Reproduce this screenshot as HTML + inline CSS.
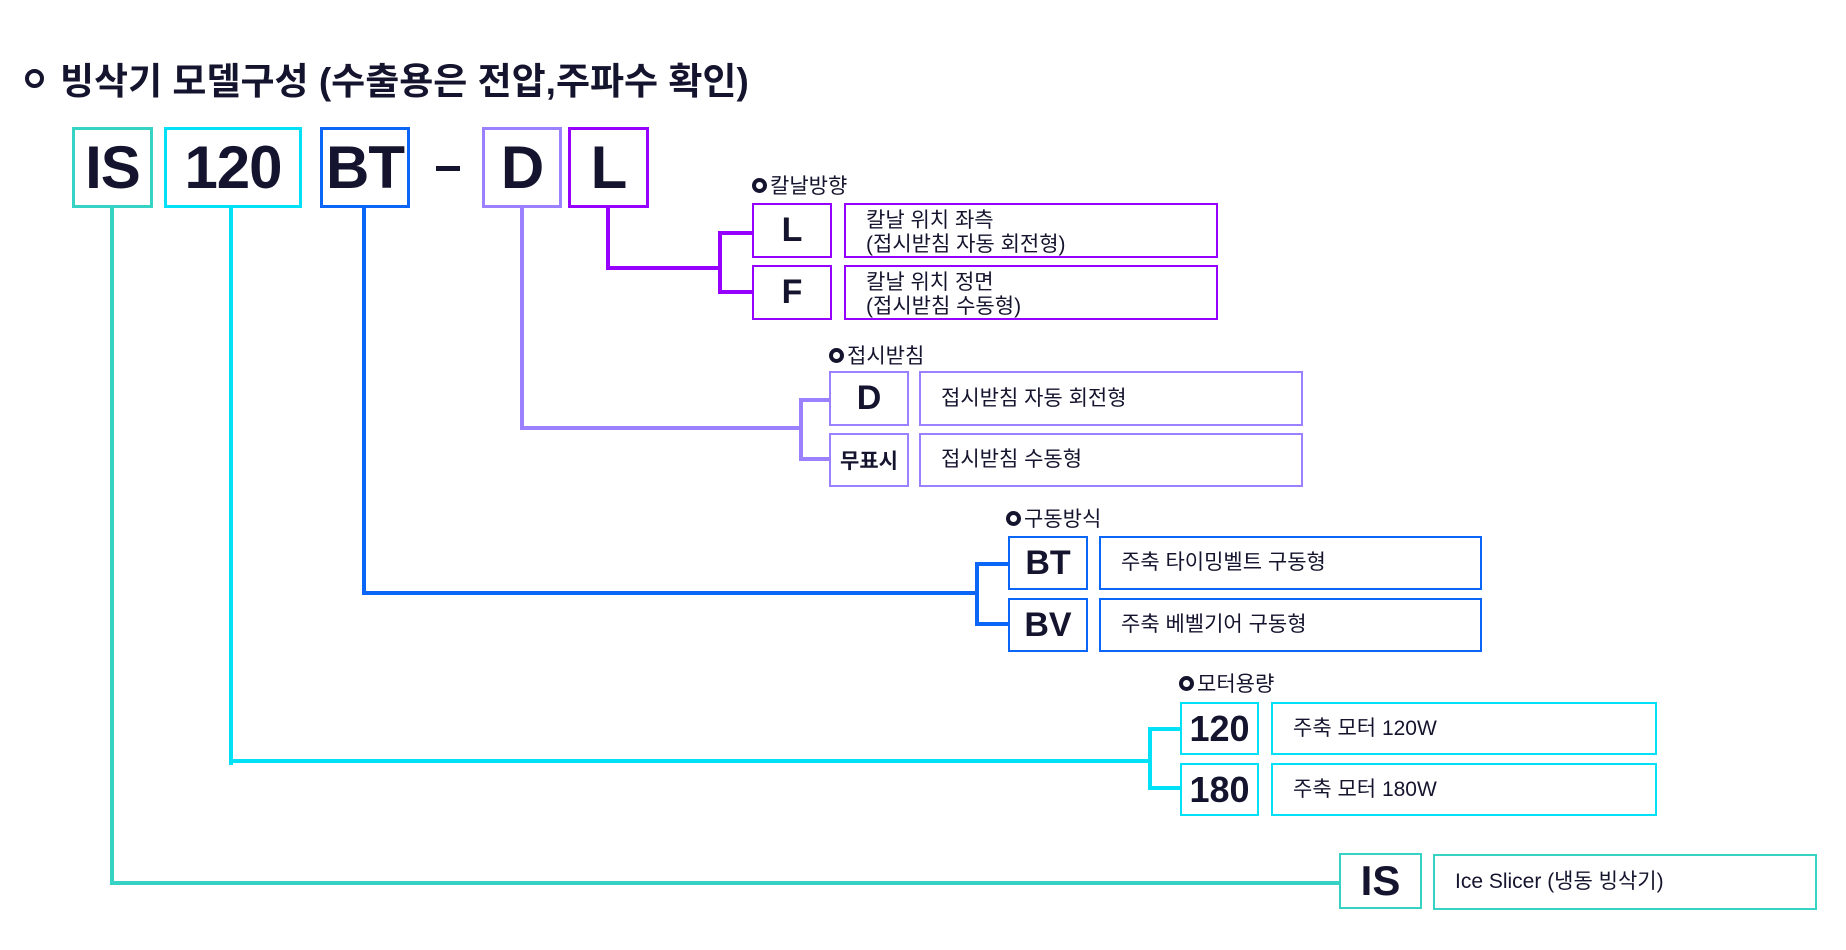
<!DOCTYPE html>
<html><head><meta charset="utf-8"><style>
body{margin:0;width:1846px;height:950px;background:#fff;position:relative;overflow:hidden;font-family:"Liberation Sans","Noto Sans CJK KR",sans-serif;color:#15142e}
.a{position:absolute;box-sizing:border-box}
.big{border:3px solid;display:flex;align-items:center;justify-content:center;font-weight:bold;font-size:60px;letter-spacing:-1px}
.bx{border:2px solid;display:flex;align-items:center;justify-content:center;font-weight:bold;font-size:34px}
.ds{border:2px solid;display:flex;align-items:center;padding-left:20px;font-size:21px;line-height:24px}
.l{position:absolute;background:currentColor}
.lb{position:absolute;font-size:21px;display:flex;align-items:center}
.lb:before{content:"";width:7px;height:7px;border:4px solid #15142e;border-radius:50%;margin-right:3px}
</style></head><body>
<div class="a" style="left:25px;top:51px;font-size:37px;font-weight:bold;display:flex;align-items:center;white-space:nowrap"><span style="display:inline-block;width:11px;height:11px;border:4px solid #15142e;border-radius:50%;margin-right:16px"></span>빙삭기 모델구성 (수출용은 전압,주파수 확인)</div>

<div class="a big" style="left:72px;top:127px;width:81px;height:81px;border-color:#36d3c5">IS</div>
<div class="a big" style="left:164px;top:127px;width:138px;height:81px;border-color:#00e1f8">120</div>
<div class="a big" style="left:320px;top:127px;width:90px;height:81px;border-color:#0a66f6">BT</div>
<div class="a" style="left:436px;top:166px;width:24px;height:5px;background:#15142e"></div>
<div class="a big" style="left:482px;top:127px;width:80px;height:81px;border-color:#9b80ff">D</div>
<div class="a big" style="left:568px;top:127px;width:81px;height:81px;border-color:#9600ff">L</div>

<div style="color:#9600ff">
<div class="l" style="left:606px;top:208px;width:4px;height:62px"></div>
<div class="l" style="left:606px;top:266px;width:116px;height:4px"></div>
<div class="l" style="left:718px;top:231px;width:4px;height:63px"></div>
<div class="l" style="left:718px;top:231px;width:36px;height:4px"></div>
<div class="l" style="left:718px;top:290px;width:36px;height:4px"></div>
</div>
<div class="lb" style="left:752px;top:170px">칼날방향</div>
<div class="a bx" style="left:752px;top:203px;width:80px;height:55px;border-color:#9600ff">L</div>
<div class="a bx" style="left:752px;top:265px;width:80px;height:55px;border-color:#9600ff">F</div>
<div class="a ds" style="left:844px;top:203px;width:374px;height:55px;border-color:#9600ff;padding-top:4px">칼날 위치 좌측<br>(접시받침 자동 회전형)</div>
<div class="a ds" style="left:844px;top:265px;width:374px;height:55px;border-color:#9600ff;padding-top:4px">칼날 위치 정면<br>(접시받침 수동형)</div>

<div style="color:#9b80ff">
<div class="l" style="left:520px;top:208px;width:4px;height:222px"></div>
<div class="l" style="left:520px;top:426px;width:283px;height:4px"></div>
<div class="l" style="left:799px;top:398px;width:4px;height:63px"></div>
<div class="l" style="left:799px;top:398px;width:32px;height:4px"></div>
<div class="l" style="left:799px;top:457px;width:32px;height:4px"></div>
</div>
<div class="lb" style="left:829px;top:340px">접시받침</div>
<div class="a bx" style="left:829px;top:371px;width:80px;height:55px;border-color:#9b80ff">D</div>
<div class="a bx" style="left:829px;top:433px;width:80px;height:54px;border-color:#9b80ff;font-size:21px">무표시</div>
<div class="a ds" style="left:919px;top:371px;width:384px;height:55px;border-color:#9b80ff">접시받침 자동 회전형</div>
<div class="a ds" style="left:919px;top:433px;width:384px;height:54px;border-color:#9b80ff">접시받침 수동형</div>

<div style="color:#0a66f6">
<div class="l" style="left:362px;top:208px;width:4px;height:387px"></div>
<div class="l" style="left:362px;top:591px;width:617px;height:4px"></div>
<div class="l" style="left:975px;top:562px;width:4px;height:64px"></div>
<div class="l" style="left:975px;top:562px;width:34px;height:4px"></div>
<div class="l" style="left:975px;top:622px;width:34px;height:4px"></div>
</div>
<div class="lb" style="left:1006px;top:503px">구동방식</div>
<div class="a bx" style="left:1008px;top:536px;width:80px;height:54px;border-color:#0a66f6">BT</div>
<div class="a bx" style="left:1008px;top:598px;width:80px;height:54px;border-color:#0a66f6">BV</div>
<div class="a ds" style="left:1099px;top:536px;width:383px;height:54px;border-color:#0a66f6">주축 타이밍벨트 구동형</div>
<div class="a ds" style="left:1099px;top:598px;width:383px;height:54px;border-color:#0a66f6">주축 베벨기어 구동형</div>

<div style="color:#00e1f8">
<div class="l" style="left:229px;top:208px;width:4px;height:557px"></div>
<div class="l" style="left:229px;top:759px;width:922px;height:4px"></div>
<div class="l" style="left:1148px;top:727px;width:4px;height:63px"></div>
<div class="l" style="left:1148px;top:727px;width:33px;height:4px"></div>
<div class="l" style="left:1148px;top:786px;width:33px;height:4px"></div>
</div>
<div class="lb" style="left:1179px;top:668px">모터용량</div>
<div class="a bx" style="left:1180px;top:702px;width:79px;height:53px;border-color:#00e1f8;font-size:36px">120</div>
<div class="a bx" style="left:1180px;top:763px;width:79px;height:53px;border-color:#00e1f8;font-size:36px">180</div>
<div class="a ds" style="left:1271px;top:702px;width:386px;height:53px;border-color:#00e1f8">주축 모터 120W</div>
<div class="a ds" style="left:1271px;top:763px;width:386px;height:53px;border-color:#00e1f8">주축 모터 180W</div>

<div style="color:#36d3c5">
<div class="l" style="left:110px;top:208px;width:4px;height:677px"></div>
<div class="l" style="left:110px;top:881px;width:1231px;height:4px"></div>
</div>
<div class="a bx" style="left:1339px;top:853px;width:83px;height:56px;border-color:#36d3c5;font-size:42px">IS</div>
<div class="a ds" style="left:1433px;top:854px;width:384px;height:56px;border-color:#36d3c5">Ice Slicer (냉동 빙삭기)</div>
</body></html>
